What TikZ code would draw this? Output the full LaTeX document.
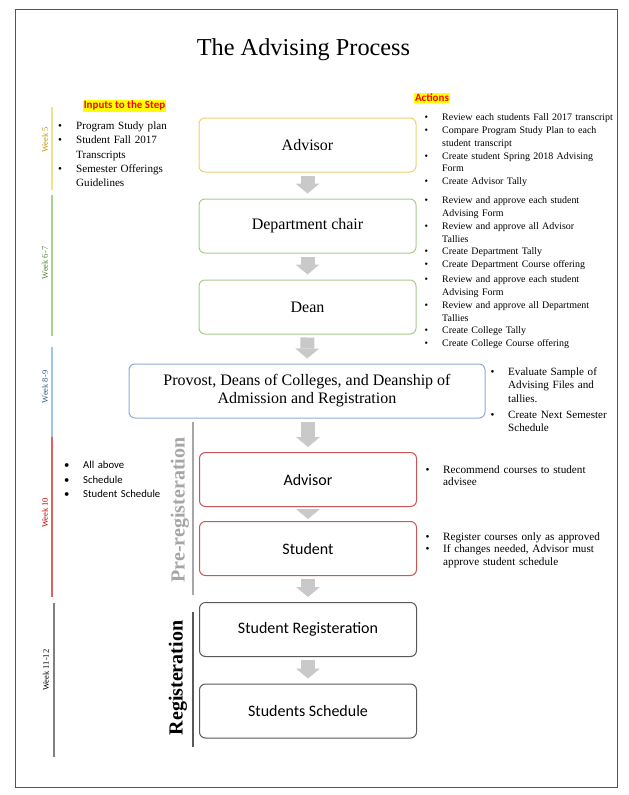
\documentclass[tikz,border=0pt]{standalone}
\usepackage{fontspec}
\setmainfont{Liberation Serif}
\newfontfamily\calfont{Carlito}
\usetikzlibrary{arrows.meta}

\definecolor{frame}{HTML}{555555}
\definecolor{arrowgray}{HTML}{C9C9C9}
\definecolor{hlyellow}{HTML}{FFFF00}
\definecolor{hlred}{HTML}{FF0000}
\definecolor{wk5}{HTML}{BF9000}
\definecolor{wk67}{HTML}{548235}
\definecolor{wk89}{HTML}{2E5C8A}
\definecolor{wk10}{HTML}{C00000}
\definecolor{wl5}{HTML}{F5E08E}
\definecolor{wl67}{HTML}{A9D08E}
\definecolor{wl89}{HTML}{9DC3E6}
\definecolor{wl10}{HTML}{E06060}
\definecolor{wl1112}{HTML}{808080}
\definecolor{byellow}{HTML}{F2D06B}
\definecolor{bgreen}{HTML}{A8CC8C}
\definecolor{bblue}{HTML}{8FAAD9}
\definecolor{bred}{HTML}{CC5555}
\definecolor{bgray}{HTML}{595959}
\definecolor{prelabel}{HTML}{A6A6A6}

% bulleted item with hanging indent (each item is its own paragraph)
\newlength\bulw
\newcommand\bl[1]{\hangindent=\bulw\hangafter=1\noindent\makebox[\bulw][l]{\strut\textbullet}#1\par}

\tikzset{
  stepbox/.style={draw, rounded corners=6pt, line width=1pt, minimum width=217pt,
    minimum height=54pt, inner sep=0pt, align=center, font=\fontsize{16}{18}\selectfont},
  sansbox/.style={stepbox, font=\calfont\fontsize{16}{18}\selectfont},
  flow/.style={draw=arrowgray, line width=14pt,
    -{Triangle[width=24pt 0 0,length=10pt 0 0,line width=0pt 0 0]},
    shorten <=3pt, shorten >=5pt},
  sidelist/.style={inner sep=0pt, anchor=north west, align=left, text width=#1},
  weekline/.style={line width=2pt},
  weeklabel/.style={rotate=90, inner sep=0pt, font=\fontsize{8.5}{8.5}\selectfont},
  hl/.style={fill=hlyellow, text=hlred, inner sep=1pt,
    font=\calfont\bfseries\fontsize{11}{12}\selectfont},
  phase/.style={rotate=90, inner sep=0pt, font=\bfseries\fontsize{20}{20}\selectfont}
}

\begin{document}
\begin{tikzpicture}[x=1pt,y=-1pt]
\useasboundingbox (0,0) rectangle (629,795);
\draw[frame, line width=1pt] (15,9) rectangle (617,787);

\node (title) at (303.5,50) {\fontsize{24.3}{28}\selectfont The Advising Process};

% steps
\node[stepbox, draw=byellow] (adv1) at (307.5,145) {Advisor};
\node[stepbox, draw=bgreen] (chair) at (307.5,226) {Department chair};
\node[stepbox, draw=bgreen] (dean) at (307.5,307) {Dean};
\node[stepbox, draw=bblue, minimum width=356pt] (prov) at (307,391)
  {Provost, Deans of Colleges, and Deanship of\\Admission and Registration};
\node[sansbox, draw=bred] (adv2) at (308,479.5) {Advisor};
\node[sansbox, draw=bred] (stud) at (308,548.5) {Student};
\node[sansbox, draw=bgray] (reg) at (308,629.5) {Student Registeration};
\node[sansbox, draw=bgray] (sched) at (308,711) {Students Schedule};

\draw[flow] (adv1) -- (chair);
\draw[flow] (chair) -- (dean);
\draw[flow] (dean) -- (prov);
\draw[flow] (prov.south -| adv2) -- (adv2);
\draw[flow, shorten <=2pt, shorten >=2pt] (adv2) -- (stud);
\draw[flow] (stud) -- (reg);
\draw[flow] (reg) -- (sched);

% headings
\node[hl] (inhead) at (124.5,106) {Inputs to the Step};
\node[hl] (acthead) at (432,98) {Actions};

% inputs
\node[sidelist=130pt, font=\fontsize{11.1}{14.2}\selectfont] (inputs) at (58,119.5)
  {\setlength\bulw{18pt}%
   \bl{Program Study plan}
   \bl{Student Fall 2017\newline Transcripts}
   \bl{Semester Offerings\newline Guidelines}};
\node[sidelist=120pt, font=\calfont\fontsize{10.7}{14.5}\selectfont] (inputs2) at (64,458.5)
  {\setlength\bulw{19pt}%
   \bl{All above}
   \bl{Schedule}
   \bl{Student Schedule}};

% actions
\node[sidelist=200pt, font=\fontsize{9.95}{12.8}\selectfont] (act1) at (424.5,111.5)
  {\setlength\bulw{17.5pt}%
   \bl{Review each students Fall 2017 transcript}
   \bl{Compare Program Study Plan to each\newline student transcript}
   \bl{Create student Spring 2018 Advising\newline Form}
   \bl{Create Advisor Tally}};
\node[sidelist=200pt, font=\fontsize{9.95}{12.8}\selectfont] (act2) at (424.5,194.5)
  {\setlength\bulw{17.5pt}%
   \bl{Review and approve each student\newline Advising Form}
   \bl{Review and approve all Advisor\newline Tallies}
   \bl{Create Department Tally}
   \bl{Create Department Course offering}};
\node[sidelist=200pt, font=\fontsize{9.95}{12.8}\selectfont] (act3) at (424.5,273.5)
  {\setlength\bulw{17.5pt}%
   \bl{Review and approve each student\newline Advising Form}
   \bl{Review and approve all Department\newline Tallies}
   \bl{Create College Tally}
   \bl{Create College Course offering}};
\node[sidelist=125pt, font=\fontsize{11.1}{13.5}\selectfont] (act4) at (490.5,365.5)
  {\setlength\bulw{17.5pt}\setlength\parskip{2.5pt}%
   \bl{Evaluate Sample of\newline Advising Files and\newline tallies.}
   \bl{Create Next Semester\newline Schedule}};
\node[sidelist=190pt, font=\fontsize{11.2}{12.7}\selectfont] (act5) at (425.5,464)
  {\setlength\bulw{17.5pt}%
   \bl{Recommend courses to student\newline advisee}};
\node[sidelist=190pt, font=\fontsize{11.2}{12.7}\selectfont] (act6) at (425.5,531)
  {\setlength\bulw{17.5pt}%
   \bl{Register courses only as approved}
   \bl{If changes needed, Advisor must\newline approve student schedule}};

% week timeline
\draw[weekline, draw=wl5] (52,107) -- (52,190);
\draw[weekline, draw=wl67] (52,195) -- (52,336);
\draw[weekline, draw=wl89] (52,347) -- (52,437);
\draw[weekline, draw=wl10] (52,437) -- (52,597);
\draw[weekline, draw=wl1112] (54,603) -- (54,757);
\node[weeklabel, text=wk5] (w5) at (45,140) {Week 5};
\node[weeklabel, text=wk67] (w67) at (45,263) {Week 6-7};
\node[weeklabel, text=wk89] (w89) at (45,387) {Week 8-9};
\node[weeklabel, text=wk10] (w10) at (45,513) {Week 10};
\node[weeklabel, text=black] (w1112) at (46,670) {Week 11-12};

% registration phases
\draw[prelabel, line width=1.2pt] (193,422) -- (193,595);
\node[phase, text=prelabel] (prereg) at (180,510) {Pre-registeration};
\draw[bgray, line width=1.5pt] (193,612) -- (193,747);
\node[phase, text=black] (regphase) at (178,678) {Registeration};
\end{tikzpicture}
\end{document}
